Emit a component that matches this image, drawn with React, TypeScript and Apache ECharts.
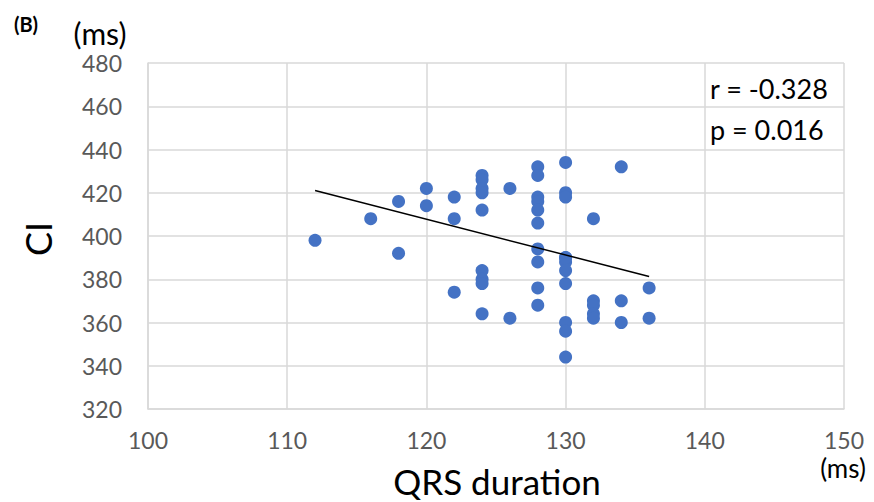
import React, { useEffect, useRef } from "react";
import * as echarts from "echarts";

const qrsDuration = [
  112, 116, 118, 118, 120, 120, 122, 122, 122,
  124, 124, 124, 124, 124, 124, 124, 124, 124,
  126, 126,
  128, 128, 128, 128, 128, 128, 128, 128, 128, 128,
  130, 130, 130, 130, 130, 130, 130, 130, 130, 130, 130,
  132, 132, 132, 132, 132,
  134, 134, 134,
  136, 136,
];
const ciValues = [
  398, 408, 416, 392, 422, 414, 418, 408, 374,
  428, 426, 422, 420, 412, 384, 380, 378, 364,
  422, 362,
  432, 428, 418, 416, 412, 406, 394, 388, 376, 368,
  434, 420, 418, 390, 388, 384, 378, 360, 356, 344, 390,
  408, 370, 368, 364, 362,
  432, 370, 360,
  376, 362,
];
const trendX = [112, 136];
const trendY = [421, 381.3];
const xTicks = { min: 100, max: 150, interval: 10 };
const yTicks = { min: 320, max: 480, interval: 20 };
const statsText = ["r = -0.328", "p = 0.016"];

const FONT = "Lato, 'Noto Sans', sans-serif";

export default function App() {
  const ref = useRef<HTMLDivElement>(null);
  useEffect(() => {
    document.body.style.margin = "0";
    if (!ref.current) return;
    const chart = echarts.init(ref.current, null, { renderer: "svg" });
    const points = qrsDuration.map((x, i) => [x, ciValues[i]]);
    const trend = trendX.map((x, i) => [x, trendY[i]]);
    chart.setOption({
      animation: false,
      backgroundColor: "#ffffff",
      grid: { left: 148, right: 30, top: 63, bottom: 93 },
      xAxis: {
        type: "value",
        min: xTicks.min,
        max: xTicks.max,
        interval: xTicks.interval,
        axisLine: { show: true, lineStyle: { color: "#d9d9d9", width: 1.5 } },
        axisTick: { show: false },
        axisLabel: { color: "#595959", fontSize: 23, fontFamily: FONT, margin: 19 },
        splitLine: { show: true, lineStyle: { color: "#d9d9d9", width: 1.5 } },
      },
      yAxis: {
        type: "value",
        min: yTicks.min,
        max: yTicks.max,
        interval: yTicks.interval,
        axisLine: { show: true, lineStyle: { color: "#d9d9d9", width: 1.5 } },
        axisTick: { show: false },
        axisLabel: { color: "#595959", fontSize: 23, fontFamily: FONT, margin: 26 },
        splitLine: { show: true, lineStyle: { color: "#d9d9d9", width: 1.5 } },
      },
      series: [
        {
          type: "scatter",
          data: points,
          symbol: "circle",
          symbolSize: 13,
          itemStyle: { color: "#4472c4", opacity: 1 },
          z: 3,
        },
        {
          type: "line",
          data: trend,
          symbol: "none",
          lineStyle: { color: "#000000", width: 1.5 },
          z: 4,
        },
      ],
      graphic: [
        {
          type: "text",
          x: 26,
          y: 24,
          style: {
            text: "(B)",
            fontSize: 20,
            fontWeight: "bold",
            fontFamily: FONT,
            fill: "#000",
            align: "center",
            verticalAlign: "middle",
          },
        },
        {
          type: "text",
          x: 100,
          y: 33,
          style: {
            text: "(ms)",
            font: `30px ${FONT}`,
            fill: "#000",
            align: "center",
            verticalAlign: "middle",
          },
        },
        {
          type: "text",
          x: 38,
          y: 239,
          rotation: Math.PI / 2,
          style: {
            text: "CI",
            font: `36px ${FONT}`,
            fill: "#000",
            align: "center",
            verticalAlign: "middle",
          },
        },
        {
          type: "text",
          x: 497,
          y: 481,
          style: {
            text: "QRS duration",
            font: `35px ${FONT}`,
            fill: "#000",
            align: "center",
            verticalAlign: "middle",
          },
        },
        {
          type: "text",
          x: 843,
          y: 468,
          style: {
            text: "(ms)",
            font: `26px ${FONT}`,
            fill: "#000",
            align: "center",
            verticalAlign: "middle",
          },
        },
        {
          type: "text",
          x: 710,
          y: 88,
          style: {
            text: statsText[0],
            font: `27px ${FONT}`,
            fill: "#000",
            verticalAlign: "middle",
          },
        },
        {
          type: "text",
          x: 710,
          y: 129,
          style: {
            text: statsText[1],
            font: `27px ${FONT}`,
            fill: "#000",
            verticalAlign: "middle",
          },
        },
      ],
    });
    return () => chart.dispose();
  }, []);
  return <div ref={ref} style={{ width: 874, height: 502 }} />;
}
